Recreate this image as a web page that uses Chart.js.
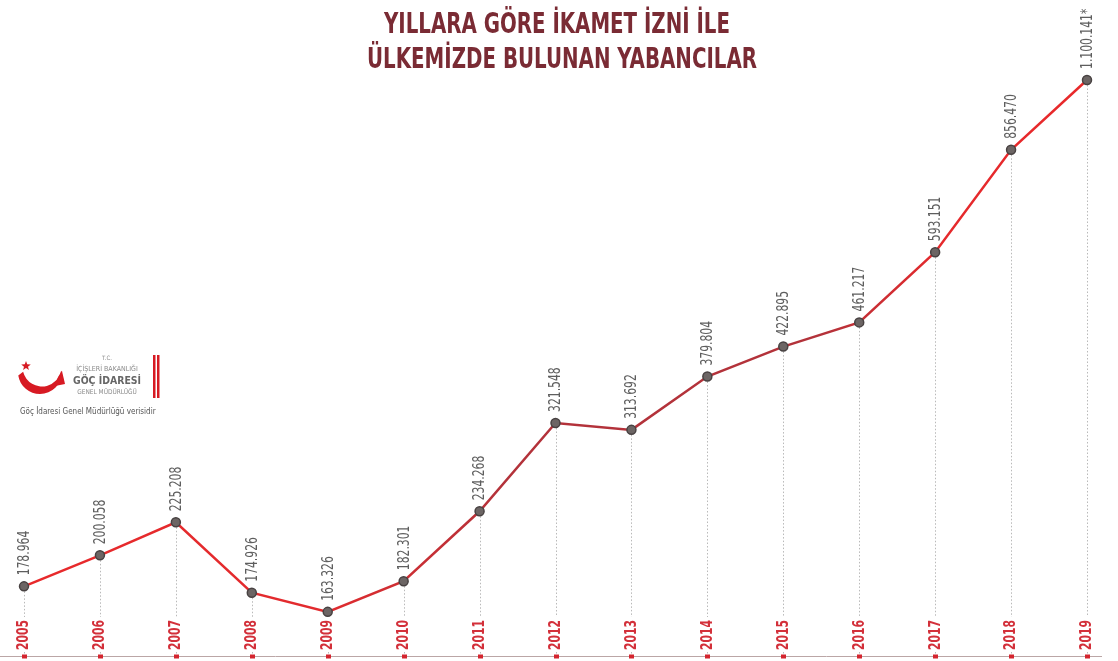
<!DOCTYPE html>
<html lang="tr">
<head>
<meta charset="utf-8">
<title>Yıllara Göre İkamet İzni ile Ülkemizde Bulunan Yabancılar</title>
<script src="https://cdn.jsdelivr.net/npm/chart.js@4.4.1/dist/chart.umd.min.js"></script>
<style>
  html, body { margin: 0; padding: 0; background: #ffffff; }
  #wrap { position: relative; width: 1118px; height: 661px; }
  canvas { display: block; }
</style>
</head>
<body>
<div id="wrap"><canvas id="c" width="1118" height="661"></canvas></div>
<script>
// ---- data ----
const years = ['2005','2006','2007','2008','2009','2010','2011','2012','2013','2014','2015','2016','2017','2018','2019'];
const residents = [178964, 200058, 225208, 174926, 163326, 182301, 234268, 321548, 313692, 379804, 422895, 461217, 593151, 856470, 1100141];
const valueNotes = ['', '', '', '', '', '', '', '', '', '', '', '', '', '', '*'];
const titleLines = ['YILLARA GÖRE İKAMET İZNİ İLE', 'ÜLKEMİZDE BULUNAN YABANCILAR'];
const sourceNote = 'Göç İdaresi Genel Müdürlüğü verisidir';
const logoLines = ['T.C.', 'İÇİŞLERİ BAKANLIĞI', 'GÖÇ İDARESİ', 'GENEL MÜDÜRLÜĞÜ'];
const yMin = 161500;
const yMax = 1414000;

const NARROW = '"Liberation Sans Narrow", "DejaVu Sans Condensed", "Roboto Condensed", sans-serif';

function fmtTR(v) {
  return String(v).replace(/\B(?=(\d{3})+(?!\d))/g, '.');
}

const decor = {
  id: 'decor',
  beforeDatasetsDraw(chart) {
    const ctx = chart.ctx;
    const meta = chart.getDatasetMeta(0);
    const area = chart.chartArea;
    const axisY = chart.height - 4.5;
    ctx.save();
    ctx.strokeStyle = '#b9b9b9';
    ctx.lineWidth = 1;
    ctx.setLineDash([1.5, 2]);
    meta.data.forEach(pt => {
      const x = Math.round(pt.x) + 0.5;
      ctx.beginPath();
      ctx.moveTo(x, pt.y + 5);
      ctx.lineTo(x, area.bottom + 2);
      ctx.stroke();
      ctx.beginPath();
      ctx.moveTo(x, area.bottom + 37);
      ctx.lineTo(x, axisY - 2);
      ctx.stroke();
    });
    ctx.setLineDash([]);

    // year labels, rotated, placed from the category scale
    const xs = chart.scales.x;
    ctx.fillStyle = '#d3303a';
    ctx.font = 'bold 15px ' + NARROW;
    ctx.textAlign = 'left';
    ctx.textBaseline = 'middle';
    years.forEach((yr, i) => {
      const x = xs.getPixelForValue(i);
      ctx.save();
      ctx.translate(x + 0.5, area.bottom + 35);
      ctx.rotate(-Math.PI / 2);
      ctx.fillText(yr, 0, 0, 30);
      ctx.restore();
    });
    ctx.restore();
  },
  afterDatasetsDraw(chart) {
    const ctx = chart.ctx;
    const meta = chart.getDatasetMeta(0);
    ctx.save();
    ctx.fillStyle = '#5e5e5e';
    ctx.font = '15px ' + NARROW;
    ctx.textAlign = 'left';
    ctx.textBaseline = 'middle';
    meta.data.forEach((pt, i) => {
      const txt = fmtTR(residents[i]) + valueNotes[i];
      const w = ctx.measureText(txt).width;
      ctx.save();
      ctx.translate(pt.x + 1, pt.y - 11);
      ctx.rotate(-Math.PI / 2);
      ctx.fillText(txt, 0, 0, w * 0.8);
      ctx.restore();
    });
    ctx.restore();
  },
  afterDraw(chart) {
    const ctx = chart.ctx;
    const meta = chart.getDatasetMeta(0);
    const axisY = chart.height - 4.5;
    ctx.save();
    // bottom base line
    ctx.strokeStyle = '#bba6a6';
    ctx.lineWidth = 1;
    ctx.beginPath();
    ctx.moveTo(0, axisY);
    ctx.lineTo(1102, axisY);
    ctx.stroke();
    ctx.fillStyle = '#d4252f';
    meta.data.forEach(pt => {
      ctx.fillRect(Math.round(pt.x) - 2, axisY - 2, 5, 4);
    });

    // title
    ctx.fillStyle = '#7a2b34';
    ctx.textAlign = 'center';
    ctx.textBaseline = 'alphabetic';
    ctx.font = 'bold 28px ' + NARROW;
    ctx.fillText(titleLines[0], 557, 33, 346);
    ctx.fillText(titleLines[1], 562, 68, 390);

    // logo: crescent + star
    ctx.fillStyle = '#d71a23';
    ctx.beginPath();
    ctx.arc(40, 372, 22, 0.0 * Math.PI, 0.95 * Math.PI, false);
    ctx.arc(42, 367, 19.5, 0.92 * Math.PI, 0.06 * Math.PI, true);
    ctx.closePath();
    ctx.fill();
    // wing tip
    ctx.beginPath();
    ctx.moveTo(55, 386);
    ctx.lineTo(65, 384);
    ctx.lineTo(62, 371);
    ctx.lineTo(58, 377);
    ctx.closePath();
    ctx.fill();
    // star
    const sx = 26, sy = 366, R = 5, r = 2.1;
    ctx.beginPath();
    for (let k = 0; k < 10; k++) {
      const a = -Math.PI / 2 + k * Math.PI / 5;
      const rr = (k % 2 === 0) ? R : r;
      const px = sx + rr * Math.cos(a), py = sy + rr * Math.sin(a);
      if (k === 0) ctx.moveTo(px, py); else ctx.lineTo(px, py);
    }
    ctx.closePath();
    ctx.fill();
    // bars
    ctx.fillRect(153, 355, 2.5, 43);
    ctx.fillRect(157, 355, 2.5, 43);
    // logo text
    ctx.fillStyle = '#8a8a8a';
    ctx.textAlign = 'center';
    ctx.font = '6px ' + NARROW;
    ctx.fillText(logoLines[0], 107, 360);
    ctx.font = '7px ' + NARROW;
    ctx.fillText(logoLines[1], 107, 371, 68);
    ctx.fillStyle = '#666666';
    ctx.font = 'bold 11px ' + NARROW;
    ctx.fillText(logoLines[2], 107, 384, 68);
    ctx.fillStyle = '#8a8a8a';
    ctx.font = '6.5px ' + NARROW;
    ctx.fillText(logoLines[3], 107, 394, 68);
    ctx.fillStyle = '#555555';
    ctx.textAlign = 'left';
    ctx.font = '8px ' + NARROW;
    ctx.fillText(sourceNote, 20, 414, 146);
    ctx.restore();
  }
};

const ctxEl = document.getElementById('c');
new Chart(ctxEl, {
  type: 'line',
  data: {
    labels: years,
    datasets: [{
      label: 'İkamet izni ile bulunan yabancılar',
      data: residents,
      borderWidth: 2.5,
      borderColor: (c) => {
        const area = c.chart.chartArea;
        if (!area) return '#e12a2c';
        const g = c.chart.ctx.createLinearGradient(area.left, 0, area.right, 0);
        g.addColorStop(0, '#e8292b');
        g.addColorStop(0.28, '#e22b2e');
        g.addColorStop(0.45, '#b3323a');
        g.addColorStop(0.75, '#b3323a');
        g.addColorStop(0.86, '#e5292c');
        g.addColorStop(1, '#e8292b');
        return g;
      },
      pointRadius: 4.5,
      pointHoverRadius: 4.5,
      pointBackgroundColor: '#6c6564',
      pointBorderColor: '#484242',
      pointBorderWidth: 1.5,
      tension: 0,
      clip: false
    }]
  },
  options: {
    responsive: false,
    animation: false,
    events: [],
    layout: { padding: { left: 24, right: 31, top: 10, bottom: 46 } },
    plugins: {
      legend: { display: false },
      title: { display: false },
      tooltip: { enabled: false }
    },
    scales: {
      x: {
        type: 'category',
        offset: false,
        display: false
      },
      y: {
        type: 'logarithmic',
        display: false,
        min: yMin,
        max: yMax
      }
    }
  },
  plugins: [decor]
});
</script>
</body>
</html>
